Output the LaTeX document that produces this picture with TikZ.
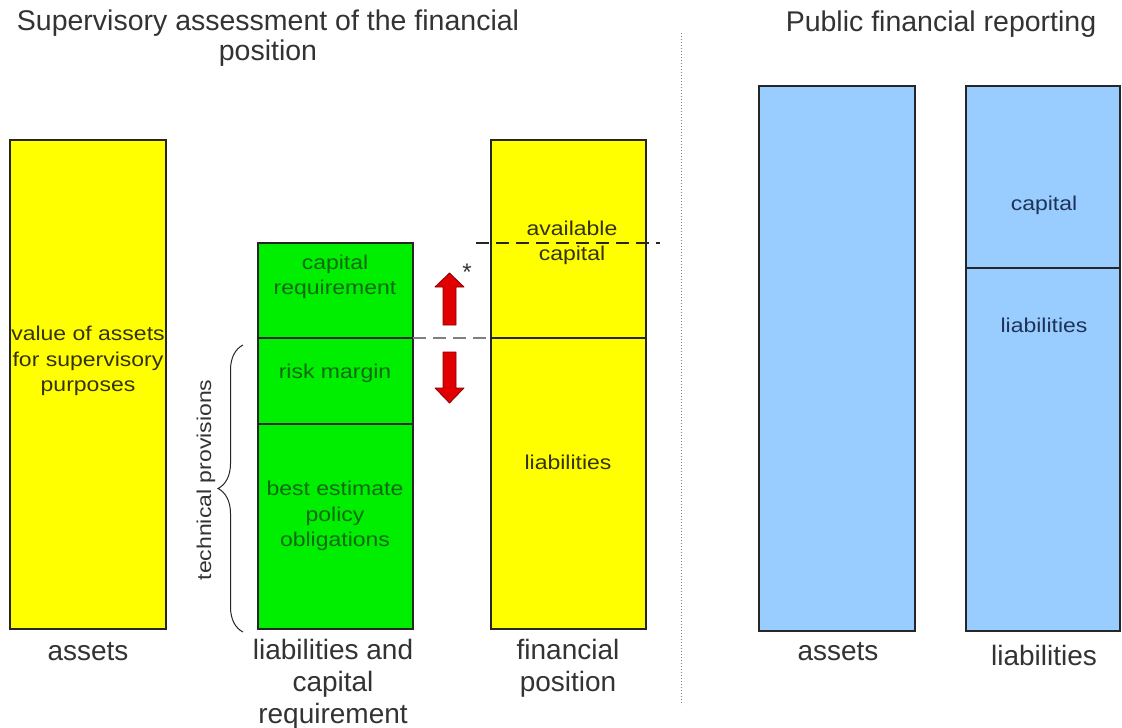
\documentclass[tikz,border=0pt]{standalone}
\usepackage{fontspec}
\setmainfont{Liberation Sans}
\newfontfamily\boxfont[FakeStretch=1.15]{Liberation Sans}
\usetikzlibrary{decorations.pathreplacing}

\definecolor{boxyellow}{HTML}{FFFF00}
\definecolor{boxgreen}{HTML}{00EE00}
\definecolor{boxblue}{HTML}{99CCFF}
\definecolor{txtyellow}{HTML}{333310}
\definecolor{txtgreen}{HTML}{0F6A12}
\definecolor{txtblue}{HTML}{1F3358}
\definecolor{txtgray}{HTML}{333333}
\definecolor{arrowred}{HTML}{E00000}
\definecolor{arrowedge}{HTML}{8A0000}

\begin{document}
\begin{tikzpicture}[x=1pt,y=-1pt,
  panel/.style={draw=black!85, line width=1.1pt, inner sep=0pt, outer sep=0pt, anchor=north west},
  boxtxt/.style={font=\boxfont\fontsize{20}{25.5}\selectfont, align=center, inner sep=0pt},
  caption/.style={font=\fontsize{28}{32}\selectfont, text=txtgray, align=center, inner sep=0pt},
  heading/.style={font=\fontsize{28.5}{30}\selectfont, text=txtgray, align=center, inner sep=0pt},
  redarrow/.style={fill=arrowred, draw=arrowedge, line width=0.8pt, line join=round},
  levelline/.style={dash pattern=on 13pt off 7pt}
]
\useasboundingbox (0,0) rectangle (1122,728);
\fill[white] (0,0) rectangle (1122,728);

% headings
\node[heading] (head-sup) at (268,38) {Supervisory assessment of the financial\\position};
\node[heading] (head-pub) at (941,24) {Public financial reporting};

% separator between the two views
\coordinate (sep-top) at (681,33);
\coordinate (sep-bot) at (681,705);
\draw[gray, dotted, line width=1pt] (sep-top) -- (sep-bot);

% supervisory view: assets
\node[panel, fill=boxyellow, minimum width=156pt, minimum height=489pt] (sv-assets) at (10,140) {};
\node[boxtxt, text=txtyellow] (t-value) at (88,361) {value of assets\\for supervisory\\purposes};

% supervisory view: liabilities and capital requirement
\node[panel, fill=boxgreen, minimum width=155pt, minimum height=95pt] (capreq) at (258,243) {};
\node[panel, fill=boxgreen, minimum width=155pt, minimum height=86pt] (risk) at (258,338) {};
\node[panel, fill=boxgreen, minimum width=155pt, minimum height=205pt] (best) at (258,424) {};
\node[boxtxt, text=txtgreen] (t-capreq) at (335,277) {capital\\requirement};
\node[boxtxt, text=txtgreen] (t-risk) at (335,373) {risk margin};
\node[boxtxt, text=txtgreen] (t-best) at (335,516) {best estimate\\policy\\obligations};

% supervisory view: financial position
\node[panel, fill=boxyellow, minimum width=155pt, minimum height=198pt] (fp-cap) at (491,140) {};
\node[panel, fill=boxyellow, minimum width=155pt, minimum height=291pt] (fp-liab) at (491,338) {};
\node[boxtxt, text=txtyellow] (t-avail) at (572,243) {available\\capital};
\node[boxtxt, text=txtyellow] (t-fpliab) at (568,462) {liabilities};

% level lines
\draw[levelline, gray, line width=1.1pt] (risk.north east) -- (fp-liab.north west);
\coordinate (avail-l) at (476,243);
\coordinate (avail-r) at (660,243);
\draw[levelline, black!85, line width=1.3pt] (avail-l) -- (avail-r);

% movement arrows
\filldraw[redarrow] (443,325) -- (443,287) -- (435,287) -- (449.5,273) -- (464,287) -- (456,287) -- (456,325) -- cycle;
\filldraw[redarrow] (443,352) -- (443,388) -- (435,388) -- (449.5,403) -- (464,388) -- (456,388) -- (456,352) -- cycle;
\node[font=\fontsize{24}{24}\selectfont, text=txtgray, inner sep=0pt] (star) at (467,272) {*};

% technical provisions brace
\coordinate (brace-bot) at (243,632);
\coordinate (brace-top) at (243,345);
\draw[decorate, decoration={brace, amplitude=25pt}, line width=1pt, black!85] (brace-bot) -- (brace-top);
\node[boxtxt, text=txtgray, rotate=90] (t-tp) at (206,480) {technical provisions};

% supervisory captions
\node[caption] (c-assets) at (88,652) {assets};
\node[caption] (c-liab) at (333,684) {liabilities and\\capital\\requirement};
\node[caption] (c-fp) at (568,668) {financial\\position};

% public reporting view
\node[panel, fill=boxblue, minimum width=156pt, minimum height=545pt] (pb-assets) at (759,86) {};
\node[panel, fill=boxblue, minimum width=154pt, minimum height=182pt] (pb-cap) at (966,86) {};
\node[panel, fill=boxblue, minimum width=154pt, minimum height=363pt] (pb-liab) at (966,268) {};
\node[boxtxt, text=txtblue] (t-pbcap) at (1044,205) {capital};
\node[boxtxt, text=txtblue] (t-pbliab) at (1044,325) {liabilities};
\node[caption] (c-pbassets) at (838,652) {assets};
\node[caption] (c-pbliab) at (1044,655) {liabilities};
\end{tikzpicture}
\end{document}
